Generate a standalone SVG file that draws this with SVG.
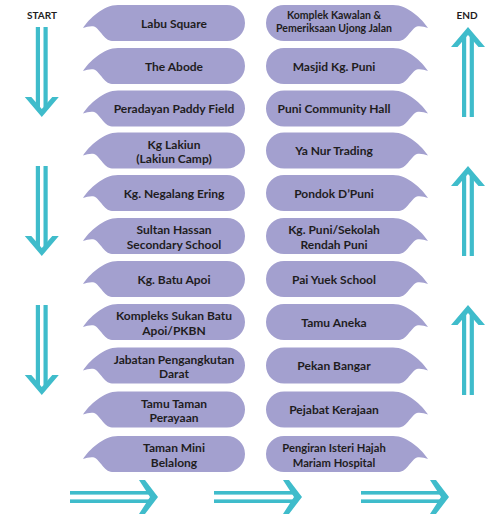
<svg xmlns="http://www.w3.org/2000/svg" xmlns:xlink="http://www.w3.org/1999/xlink" width="485" height="514" viewBox="0 0 485 514">
<style>
.b{fill:#A3A0CF}
.t{font-family:Lato,"Open Sans","Liberation Sans",sans-serif;font-weight:700;font-size:12px;fill:#1f1d1e;text-anchor:middle}
.s{font-size:10.5px}
.m{font-size:11.2px}
.a{fill:#3FBCCB}
.lbl{font-family:Lato,"Liberation Sans",sans-serif;font-weight:700;font-size:10px;fill:#1f1d1e;text-anchor:middle}
</style>
<defs>
<path id="bub" d="M35,0 H144 A18,18 0 0 1 144,36 H29 C21,36 16,22 10,21.3 Q5,21 0,23 C6,14 20,0 35,0 Z"/>
<g id="down">
<rect x="-6" y="0" width="4.2" height="80"/>
<rect x="1.7" y="0" width="4.2" height="80"/>
<polygon points="-17,70 -10.5,70 0,82 10.5,70 17,70 0,90"/>
</g>
<g id="right">
<rect x="0" y="-6" width="80" height="3.6"/>
<rect x="0" y="2.4" width="80" height="3.6"/>
<polygon points="69,-17 75,-17 88,0 75,17 69,17 80,0"/>
</g>
</defs>

<text class="lbl" x="42" y="19">START</text>
<text class="lbl" x="467" y="19">END</text>

<g id="connectors" class="a">
<use xlink:href="#down" transform="translate(41.8,27)"/>
<use xlink:href="#down" transform="translate(41.8,166)"/>
<use xlink:href="#down" transform="translate(41.8,305)"/>
<use xlink:href="#down" transform="translate(468,117) scale(1,-1)"/>
<use xlink:href="#down" transform="translate(468,256) scale(1,-1)"/>
<use xlink:href="#down" transform="translate(468,395) scale(1,-1)"/>
<use xlink:href="#right" transform="translate(70,497)"/>
<use xlink:href="#right" transform="translate(214,497)"/>
<use xlink:href="#right" transform="translate(361,497)"/>
</g>

<g id="n1"><use class="b" xlink:href="#bub" transform="translate(83,5)"/><text class="t" x="174" y="27.5">Labu Square</text></g>
<g id="n2"><use class="b" xlink:href="#bub" transform="translate(83,48)"/><text class="t" x="174" y="70.5">The Abode</text></g>
<g id="n3"><use class="b" xlink:href="#bub" transform="translate(83,90.5)"/><text class="t" x="174" y="113">Peradayan Paddy Field</text></g>
<g id="n4"><use class="b" xlink:href="#bub" transform="translate(83,132.5)"/><text class="t" x="174" y="148.5">Kg Lakiun</text><text class="t" x="174" y="163">(Lakiun Camp)</text></g>
<g id="n5"><use class="b" xlink:href="#bub" transform="translate(83,175)"/><text class="t" x="174" y="197.5">Kg. Negalang Ering</text></g>
<g id="n6"><use class="b" xlink:href="#bub" transform="translate(83,218)"/><text class="t" x="174" y="234">Sultan Hassan</text><text class="t" x="174" y="248.5">Secondary School</text></g>
<g id="n7"><use class="b" xlink:href="#bub" transform="translate(83,261)"/><text class="t" x="174" y="283.5">Kg. Batu Apoi</text></g>
<g id="n8"><use class="b" xlink:href="#bub" transform="translate(83,304)"/><text class="t" x="174" y="320">Kompleks Sukan Batu</text><text class="t" x="174" y="334.5">Apoi/PKBN</text></g>
<g id="n9"><use class="b" xlink:href="#bub" transform="translate(83,347.5)"/><text class="t" x="174" y="363.5">Jabatan Pengangkutan</text><text class="t" x="174" y="378">Darat</text></g>
<g id="n10"><use class="b" xlink:href="#bub" transform="translate(83,391.5)"/><text class="t" x="174" y="407.5">Tamu Taman</text><text class="t" x="174" y="422">Perayaan</text></g>
<g id="n11"><use class="b" xlink:href="#bub" transform="translate(83,436)"/><text class="t" x="174" y="452">Taman Mini</text><text class="t" x="174" y="466.5">Belalong</text></g>

<g id="n12"><use class="b" xlink:href="#bub" transform="translate(428,436) scale(-1,1)"/><text class="t m" x="334" y="452">Pengiran Isteri Hajah</text><text class="t m" x="334" y="466.5">Mariam Hospital</text></g>
<g id="n13"><use class="b" xlink:href="#bub" transform="translate(428,391.5) scale(-1,1)"/><text class="t" x="334" y="414">Pejabat Kerajaan</text></g>
<g id="n14"><use class="b" xlink:href="#bub" transform="translate(428,347.5) scale(-1,1)"/><text class="t" x="334" y="370">Pekan Bangar</text></g>
<g id="n15"><use class="b" xlink:href="#bub" transform="translate(428,304) scale(-1,1)"/><text class="t" x="334" y="326.5">Tamu Aneka</text></g>
<g id="n16"><use class="b" xlink:href="#bub" transform="translate(428,261) scale(-1,1)"/><text class="t" x="334" y="283.5">Pai Yuek School</text></g>
<g id="n17"><use class="b" xlink:href="#bub" transform="translate(428,218) scale(-1,1)"/><text class="t" x="334" y="234">Kg. Puni/Sekolah</text><text class="t" x="334" y="248.5">Rendah Puni</text></g>
<g id="n18"><use class="b" xlink:href="#bub" transform="translate(428,175) scale(-1,1)"/><text class="t" x="334" y="197.5">Pondok D’Puni</text></g>
<g id="n19"><use class="b" xlink:href="#bub" transform="translate(428,132.5) scale(-1,1)"/><text class="t" x="334" y="155">Ya Nur Trading</text></g>
<g id="n20"><use class="b" xlink:href="#bub" transform="translate(428,90.5) scale(-1,1)"/><text class="t" x="334" y="113">Puni Community Hall</text></g>
<g id="n21"><use class="b" xlink:href="#bub" transform="translate(428,48) scale(-1,1)"/><text class="t" x="334" y="70.5">Masjid Kg. Puni</text></g>
<g id="n22"><use class="b" xlink:href="#bub" transform="translate(428,5) scale(-1,1)"/><text class="t s" x="334" y="19">Komplek Kawalan &amp;</text><text class="t s" x="334" y="32.3">Pemeriksaan Ujong Jalan</text></g>
</svg>
